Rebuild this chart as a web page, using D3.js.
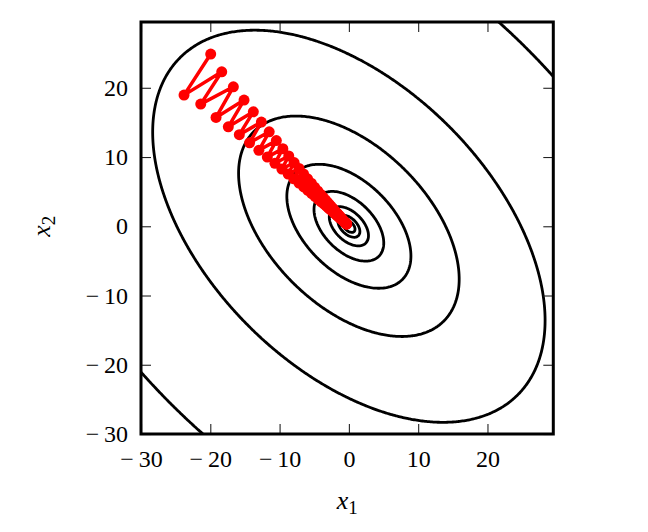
<!DOCTYPE html>
<html><head><meta charset="utf-8">
<script src="https://cdn.jsdelivr.net/npm/d3@7"></script>
<style>body{margin:0;background:#fff}</style>
</head><body>
<svg id="c" width="648" height="532"></svg>
<script>
const xTicks = [-30, -20, -10, 0, 10, 20];
const yTicks = [-30, -20, -10, 0, 10, 20];
const xDomain = [-30, 29.5];
const yDomain = [-30, 29.5];
// contour function f = a x^2 + 2 b x y + d y^2 (coefficients read from the ellipse shapes)
const quadA = 1, quadB = 0.48, quadD = 1;
const contourLevels = [1950, 617, 195, 61.7, 19.5, 6.17, 1.95, 0.617];
const pathX = [-19.94,-23.79,-18.35,-21.38,-16.67,-19.17,-15.13,-17.40,-13.79,-15.81,-12.63,-14.33,-11.50,-12.99,-10.47,-11.77,-9.53,-10.67,-8.68,-9.67,-7.90,-8.76,-7.19,-7.94,-6.54,-7.20,-5.96,-6.52,-5.42,-5.91,-4.93,-5.36,-4.49,-4.86,-4.09,-4.41,-3.72,-4.00,-3.38,-3.62,-3.07,-3.29,-2.79,-2.98,-2.54,-2.71,-2.31,-2.45,-2.11,-2.22,-1.91,-2.01,-1.74,-1.82,-1.58,-1.65,-1.44,-1.50,-1.31,-1.35,-1.19,-1.23,-1.09,-1.12,-0.99,-0.98,-0.93,-0.89,-0.85,-0.81,-0.77,-0.73,-0.70,-0.67,-0.63,-0.60,-0.58,-0.55,-0.52,-0.50,-0.48,-0.46,-0.44,-0.42,-0.40,-0.38,-0.36,-0.34,-0.33,-0.31];
const pathY = [24.87,18.94,22.31,17.64,20.14,15.72,18.22,14.37,16.53,13.23,15.05,12.05,13.64,10.97,12.37,9.99,11.21,9.09,10.16,8.27,9.20,7.54,8.35,6.86,7.56,6.24,6.86,5.68,6.22,5.17,5.63,4.70,5.11,4.28,4.63,3.89,4.20,3.54,3.80,3.22,3.45,2.93,3.13,2.66,2.84,2.43,2.57,2.21,2.33,2.00,2.11,1.83,1.92,1.66,1.74,1.51,1.58,1.38,1.43,1.25,1.29,1.13,1.17,1.04,1.07,0.98,0.93,0.89,0.85,0.81,0.77,0.73,0.70,0.67,0.63,0.60,0.58,0.55,0.52,0.50,0.48,0.46,0.44,0.42,0.40,0.38,0.36,0.34,0.33,0.31];

const L = 141, R = 553.3, T = 22, B = 434;
const x = d3.scaleLinear().domain(xDomain).range([L, R]);
const y = d3.scaleLinear().domain(yDomain).range([B, T]);
const svg = d3.select("#c");
const font = "'Liberation Serif', 'DejaVu Serif', serif";

svg.append("defs").append("clipPath").attr("id", "clip")
  .append("rect").attr("x", L).attr("y", T).attr("width", R - L).attr("height", B - T);

// contour grid
const g0 = -32, step = 0.2, n = 321;
const vals = new Float64Array(n * n);
for (let j = 0; j < n; j++) for (let i = 0; i < n; i++) {
  const xv = g0 + step * i, yv = g0 + step * j;
  vals[j * n + i] = -(quadA * xv * xv + 2 * quadB * xv * yv + quadD * yv * yv);
}
const contours = d3.contours().size([n, n]).thresholds(contourLevels.map(v => -v))(vals);
const proj = d3.geoTransform({
  point(px, py) { this.stream.point(x(g0 + step * (px - 0.5)), y(g0 + step * (py - 0.5))); }
});
const gpath = d3.geoPath(proj);
const plot = svg.append("g").attr("clip-path", "url(#clip)");
plot.selectAll("path.ct").data(contours).join("path").attr("class", "ct")
  .attr("d", gpath).attr("fill", "none").attr("stroke", "#000")
  .attr("stroke-width", 2.8).attr("stroke-linejoin", "round");

// descent path
const pts = d3.range(Math.min(pathX.length, pathY.length)).map(i => [pathX[i], pathY[i]]);
plot.append("path").datum(pts)
  .attr("d", d3.line().x(d => x(d[0])).y(d => y(d[1])))
  .attr("fill", "none").attr("stroke", "#ff0000").attr("stroke-width", 3.5).attr("stroke-linejoin", "round");
plot.selectAll("circle").data(pts).join("circle")
  .attr("cx", d => x(d[0])).attr("cy", d => y(d[1])).attr("r", 5.5).attr("fill", "#ff0000");

// axes
const fmt = d => d < 0 ? "\u2212\u2009" + Math.abs(d) : String(d);
function styleAxis(g) {
  g.attr("font-family", null).attr("font-size", null);
  g.select(".domain").remove();
  g.selectAll(".tick line").attr("stroke", "#222").attr("stroke-width", 1.1);
  g.selectAll(".tick text").style("font-family", font).style("font-size", "24px").attr("fill", "#000");
}
svg.append("g").attr("transform", `translate(0,${B})`)
  .call(d3.axisBottom(x).tickValues(xTicks).tickSize(-10).tickPadding(16).tickFormat(fmt)).call(styleAxis);
svg.append("g").attr("transform", `translate(${L},0)`)
  .call(d3.axisLeft(y).tickValues(yTicks).tickSize(-10).tickPadding(13).tickFormat(fmt)).call(styleAxis);
svg.append("g").attr("transform", `translate(0,${T})`)
  .call(d3.axisTop(x).tickValues(xTicks).tickSize(-10).tickFormat("")).call(styleAxis);
svg.append("g").attr("transform", `translate(${R},0)`)
  .call(d3.axisRight(y).tickValues(yTicks).tickSize(-10).tickFormat("")).call(styleAxis);

// frame
svg.append("rect").attr("x", L).attr("y", T).attr("width", R - L).attr("height", B - T)
  .attr("fill", "none").attr("stroke", "#000").attr("stroke-width", 3);

// axis labels
const xl = svg.append("text").attr("x", (L + R) / 2).attr("y", 509).attr("text-anchor", "middle")
  .style("font-family", font).style("font-size", "26px");
xl.append("tspan").attr("font-style", "italic").text("x");
xl.append("tspan").style("font-size", "19px").attr("dy", 5).text("1");
const yl = svg.append("text").attr("transform", `translate(50,${y(0)}) rotate(-90)`).attr("text-anchor", "middle")
  .style("font-family", font).style("font-size", "26px");
yl.append("tspan").attr("font-style", "italic").text("x");
yl.append("tspan").style("font-size", "19px").attr("dy", 5).text("2");
</script>
</body></html>
